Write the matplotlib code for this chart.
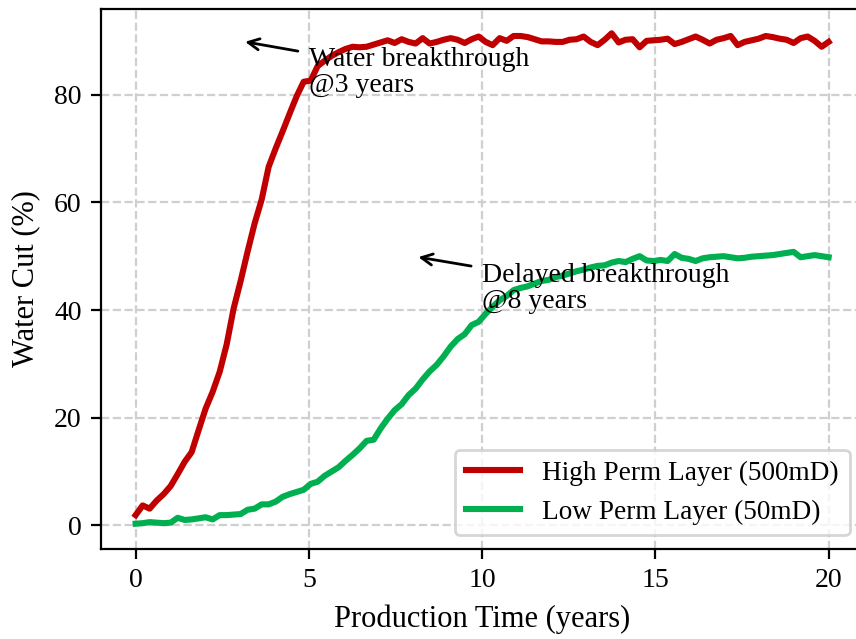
import numpy as np
import matplotlib
matplotlib.use("Agg")
import matplotlib.pyplot as plt

# ---------- data ----------
years = np.linspace(0, 20, 100)

high_perm = [
    1.9, 3.7, 3.1, 4.6, 5.8, 7.3, 9.5, 11.8, 13.6, 17.7,
    21.7, 24.8, 28.5, 33.6, 40.3, 45.4, 50.9, 56.1, 60.5, 66.6,
    70.0, 73.2, 76.5, 79.7, 82.4, 82.6, 85.3, 86.3, 87.2, 87.9,
    88.5, 88.9, 88.8, 88.9, 89.3, 89.7, 90.1, 89.6, 90.3, 89.8,
    89.5, 90.5, 89.5, 89.8, 90.2, 90.5, 90.2, 89.6, 90.3, 90.8,
    89.8, 89.2, 90.5, 90.0, 90.9, 90.9, 90.7, 90.3, 89.9, 89.9,
    89.8, 89.8, 90.2, 90.3, 90.8, 89.8, 89.2, 90.2, 91.4, 89.7,
    90.2, 90.3, 88.8, 90.0, 90.1, 90.2, 90.4, 89.4, 89.8, 90.3,
    90.8, 90.2, 89.5, 90.2, 90.5, 90.9, 89.2, 89.8, 90.1, 90.4,
    90.9, 90.7, 90.4, 90.2, 89.6, 90.5, 90.8, 90.0, 88.9, 89.8,
]

low_perm = [
    0.3, 0.4, 0.6, 0.5, 0.4, 0.5, 1.4, 1.0, 1.1, 1.3,
    1.5, 1.1, 1.9, 1.9, 2.0, 2.1, 2.9, 3.1, 3.9, 3.9,
    4.4, 5.3, 5.8, 6.2, 6.6, 7.7, 8.1, 9.2, 10.0, 10.8,
    12.0, 13.1, 14.3, 15.7, 15.9, 18.0, 19.8, 21.4, 22.5, 24.2,
    25.4, 27.1, 28.6, 29.8, 31.4, 33.2, 34.6, 35.5, 37.2, 37.8,
    39.3, 40.6, 41.8, 42.6, 43.7, 44.1, 44.4, 44.9, 45.4, 45.6,
    46.1, 46.4, 46.8, 47.2, 47.5, 47.9, 48.2, 48.3, 48.8, 49.1,
    48.9, 49.5, 50.0, 49.2, 49.1, 49.3, 49.1, 50.4, 49.7, 49.5,
    49.1, 49.6, 49.8, 49.9, 50.0, 49.8, 49.6, 49.7, 49.9, 50.0,
    50.1, 50.2, 50.4, 50.6, 50.8, 49.8, 50.0, 50.2, 50.0, 49.8,
]

labels = ["High Perm Layer (500mD)", "Low Perm Layer (50mD)"]
colors = ["#C00000", "#00B050"]

# annotation text, arrow target (x, y), text anchor (x, y)
notes = [
    ("Water breakthrough\n@3 years", (3, 90), (5, 80.5)),
    ("Delayed breakthrough\n@8 years", (8, 50), (10, 40.3)),
]

plt.rcParams["font.family"] = ["Liberation Serif", "DejaVu Serif"]
plt.rcParams["font.size"] = 10

fig = plt.figure(figsize=(4.28, 3.195), dpi=200)
ax = fig.add_axes([0.118, 0.1408, 0.8905, 0.845])

ax.plot(years, high_perm, color=colors[0], lw=2.2, label=labels[0])
ax.plot(years, low_perm, color=colors[1], lw=2.2, label=labels[1])

for text, xy, xytext in notes:
    ax.annotate(text, xy=xy, xytext=xytext, fontsize=10, linespacing=1.05,
                arrowprops=dict(arrowstyle="->", color="black", lw=1.0))

ax.set_xlim(-1, 21)
ax.set_ylim(-4.4, 95.9)
ax.set_xticks([0, 5, 10, 15, 20])
ax.set_yticks([0, 20, 40, 60, 80])
ax.tick_params(labelsize=10)
ax.set_xlabel("Production Time (years)", fontsize=11)
ax.set_ylabel("Water Cut (%)", fontsize=11, labelpad=5)
ax.grid(True, linestyle="--", color="#cfcfcf", lw=0.8)
ax.legend(loc="lower right", fontsize=9.8)

fig.savefig("out.png", dpi=200)
